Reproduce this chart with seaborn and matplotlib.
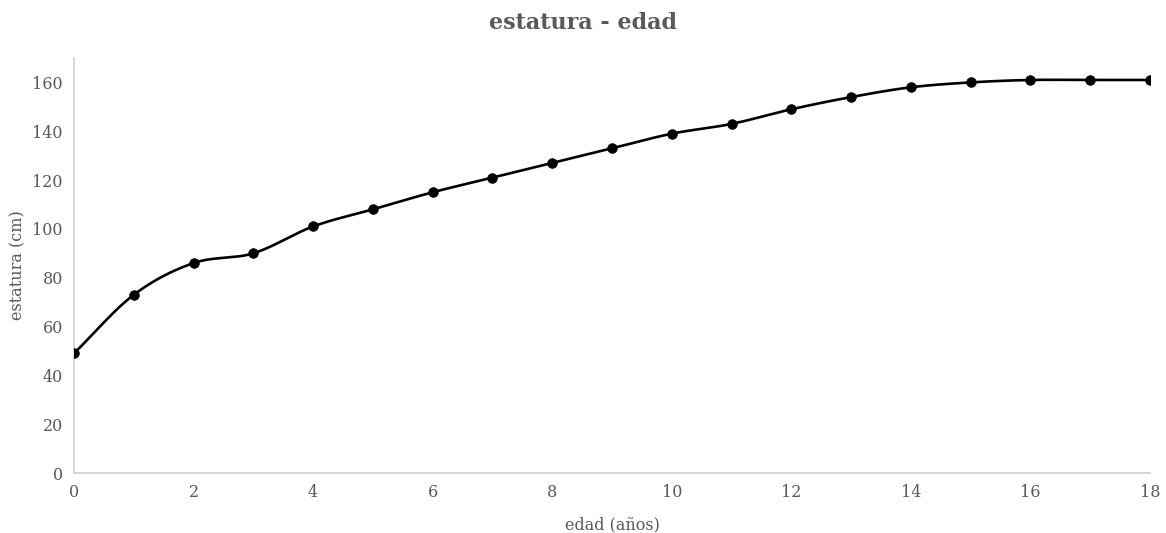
import numpy as np
import pandas as pd
import matplotlib
matplotlib.use("Agg")
import matplotlib.pyplot as plt
import seaborn as sns

edad = [0, 1, 2, 3, 4, 5, 6, 7, 8, 9, 10, 11, 12, 13, 14, 15, 16, 17, 18]
estatura = [49, 73, 86, 90, 101, 108, 115, 121, 127, 133, 139, 143, 149, 154, 158, 160, 161, 161, 161]
xticks = [0, 2, 4, 6, 8, 10, 12, 14, 16, 18]
yticks = [0, 20, 40, 60, 80, 100, 120, 140, 160]


def smooth(x, y, n=30, tension=0.5):
    # Catmull-Rom style smoothing (like a spreadsheet "smoothed line")
    x = np.asarray(x, float)
    y = np.asarray(y, float)
    xs, ys = [], []
    for i in range(len(x) - 1):
        p0 = i - 1 if i > 0 else i
        p3 = i + 2 if i + 2 < len(x) else i + 1
        m1x = tension * (x[i + 1] - x[p0]) / (1 if p0 == i else 2)
        m1y = tension * (y[i + 1] - y[p0]) / (1 if p0 == i else 2)
        m2x = tension * (x[p3] - x[i]) / (1 if p3 == i + 1 else 2)
        m2y = tension * (y[p3] - y[i]) / (1 if p3 == i + 1 else 2)
        t = np.linspace(0, 1, n, endpoint=False)
        h00 = 2 * t**3 - 3 * t**2 + 1
        h10 = t**3 - 2 * t**2 + t
        h01 = -2 * t**3 + 3 * t**2
        h11 = t**3 - t**2
        xs.extend(h00 * x[i] + h10 * 2 * m1x + h01 * x[i + 1] + h11 * 2 * m2x)
        ys.extend(h00 * y[i] + h10 * 2 * m1y + h01 * y[i + 1] + h11 * 2 * m2y)
    xs.append(x[-1])
    ys.append(y[-1])
    return np.array(xs), np.array(ys)


sns.set_theme(style="white")
plt.rcParams["font.family"] = ["DejaVu Serif"]

fig = plt.figure(figsize=(11.66, 5.33), dpi=100)
ax = fig.add_axes([74 / 1166, 1 - 473 / 533, (1150 - 74) / 1166, (473 - 58) / 533])

sx, sy = smooth(edad, estatura)
curve = pd.DataFrame({"x": sx, "y": sy})
pts = pd.DataFrame({"edad": edad, "estatura": estatura})

sns.lineplot(data=curve, x="x", y="y", ax=ax, color="black", linewidth=1.9, sort=False, estimator=None)
sns.scatterplot(data=pts, x="edad", y="estatura", ax=ax, color="black", s=48, edgecolor="black", zorder=5)

ax.set_xlim(0, 18)
ax.set_ylim(0, 170)
ax.set_xticks(xticks)
ax.set_yticks(yticks)
ax.tick_params(axis="both", labelsize=11.5, labelcolor="#595959", length=0, pad=8)

for s in ["top", "right"]:
    ax.spines[s].set_visible(False)
for s in ["left", "bottom"]:
    ax.spines[s].set_color("#d0d0d0")
    ax.spines[s].set_linewidth(1.2)

ax.set_xlabel("edad (años)", fontsize=11.5, color="#595959", labelpad=11)
ax.set_ylabel("estatura (cm)", fontsize=11.5, color="#595959", labelpad=4)
fig.suptitle("estatura - edad", fontsize=16, fontweight="bold", color="#595959", y=0.978)

fig.savefig("out.png", dpi=100)
